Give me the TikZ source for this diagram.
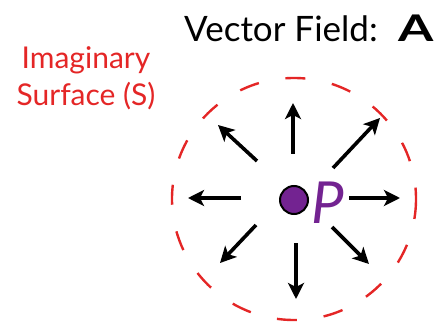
\documentclass[tikz,border=0pt]{standalone}
\usepackage{fontspec}
\setmainfont{Lato}
\usetikzlibrary{arrows.meta}
\definecolor{surfred}{RGB}{228,38,38}
\definecolor{ppurple}{RGB}{115,35,145}
\tikzset{
  fieldarrow/.style={line width=3.6pt,-{Stealth[length=16pt,width=16pt,inset=4pt]}},
  surface/.style={draw=surfred,line width=2.4pt,dash pattern=on 20pt off 27pt},
}
\begin{document}
\begin{tikzpicture}[x=1pt,y=-1pt]
\useasboundingbox (0,0) rectangle (441,323);
\node[anchor=base west,inner sep=0pt,font=\fontsize{35}{38}\selectfont] (title) at (184,42) {Vector Field:\hspace{21pt}\textbf{\scalebox{1.45}[1.05]{A}}};
\node[align=center,text=surfred,inner sep=0pt,font=\fontsize{30}{37}\selectfont] (surf) at (86,78) {Imaginary\\Surface (S)};
\draw[surface] (294,199) circle[x radius=122,y radius=121];
\node[circle,fill=ppurple,draw=black,line width=2pt,minimum size=28pt,inner sep=0pt] (p) at (294,200) {};
\node[anchor=base west,inner sep=0pt,text=ppurple,font=\fontsize{58}{60}\selectfont\itshape] (plabel) at (311,223) {P};
\coordinate (u0) at (293,154); \coordinate (u1) at (293,103);
\coordinate (ur0) at (333,168); \coordinate (ur1) at (380,118);
\coordinate (r0) at (349,198); \coordinate (r1) at (400,198);
\coordinate (dr0) at (332,227); \coordinate (dr1) at (369,264);
\coordinate (d0) at (296,243); \coordinate (d1) at (296,299);
\coordinate (dl0) at (256,225); \coordinate (dl1) at (220,263);
\coordinate (l0) at (241,198); \coordinate (l1) at (188,198);
\coordinate (ul0) at (257,161); \coordinate (ul1) at (218,125);
\foreach \a in {u,ur,r,dr,d,dl,l,ul}{\draw[fieldarrow] (\a0) -- (\a1);}
\end{tikzpicture}
\end{document}
